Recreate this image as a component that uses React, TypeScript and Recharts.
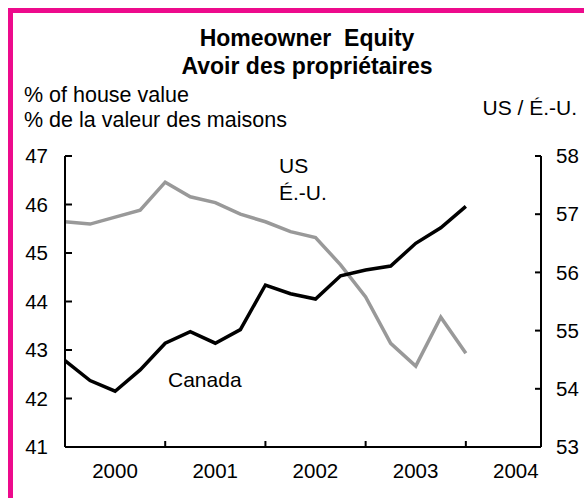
import { LineChart, Line, XAxis, YAxis } from "recharts";

const FONT = "'Liberation Sans', Arial, sans-serif";

// quarterly observations, 2000Q1 .. 2004Q1
const quarters = [
  "2000Q1", "2000Q2", "2000Q3", "2000Q4",
  "2001Q1", "2001Q2", "2001Q3", "2001Q4",
  "2002Q1", "2002Q2", "2002Q3", "2002Q4",
  "2003Q1", "2003Q2", "2003Q3", "2003Q4",
  "2004Q1",
];
// Canada, left axis (% of house value)
const canada = [
  42.78, 42.37, 42.15, 42.59, 43.14, 43.38, 43.14, 43.42,
  44.34, 44.16, 44.05, 44.53, 44.65, 44.73, 45.2, 45.52, 45.96,
];
// US, right axis
const us = [
  56.87, 56.83, 56.95, 57.07, 57.55, 57.3, 57.2, 57.0,
  56.87, 56.7, 56.6, 56.13, 55.58, 54.78, 54.39, 55.23, 54.61,
];

const years = ["2000", "2001", "2002", "2003", "2004"];
const yearStarts = [0, 4, 8, 12, 16];
const leftTicks = [41, 42, 43, 44, 45, 46, 47];
const rightTicks = [53, 54, 55, 56, 57, 58];

const data = quarters.map((q, i) => ({ q, t: i, canada: canada[i], us: us[i] }));

const tickStyle = { fill: "#000", fontSize: 20.5, fontFamily: FONT };
const axisLine = { stroke: "#000", strokeWidth: 2 };

function YearTick(props: any) {
  const { x, y, index } = props;
  return (
    <text x={x + 50} y={y + 15} textAnchor="middle" {...tickStyle}>
      {years[index]}
    </text>
  );
}

export default function App() {
  return (
    <div style={{ position: "absolute", left: 0, top: 0, width: 584, height: 498, background: "#fff" }}>
      <div
        style={{
          position: "absolute",
          left: 8,
          top: 8,
          width: 576,
          height: 490,
          boxSizing: "border-box",
          borderTop: "5px solid #ED0A8C",
          borderLeft: "5px solid #ED0A8C",
        }}
      />
      <div style={{ position: "absolute", left: 0, top: 0 }}>
        <LineChart width={584} height={498} data={data} margin={{ top: 156, right: 0, bottom: 0, left: 0 }}>
          <XAxis
            dataKey="t"
            type="number"
            domain={[0, 19]}
            ticks={yearStarts}
            interval={0}
            height={51}
            tickSize={-6}
            tickMargin={22}
            axisLine={axisLine}
            tickLine={axisLine}
            tick={<YearTick />}
          />
          <YAxis
            yAxisId="left"
            domain={[41, 47]}
            ticks={leftTicks}
            interval={0}
            width={65}
            tickSize={-7}
            tickMargin={24}
            axisLine={axisLine}
            tickLine={axisLine}
            tick={tickStyle}
          />
          <YAxis
            yAxisId="right"
            orientation="right"
            domain={[53, 58]}
            ticks={rightTicks}
            interval={0}
            width={43}
            tickSize={-6}
            tickMargin={21}
            axisLine={axisLine}
            tickLine={axisLine}
            tick={tickStyle}
          />
          <Line
            yAxisId="right"
            dataKey="us"
            type="linear"
            stroke="#999"
            strokeWidth={3.5}
            dot={false}
            isAnimationActive={false}
          />
          <Line
            yAxisId="left"
            dataKey="canada"
            type="linear"
            stroke="#000"
            strokeWidth={3.5}
            dot={false}
            isAnimationActive={false}
          />
        </LineChart>
      </div>
      <svg
        width={584}
        height={498}
        style={{ position: "absolute", left: 0, top: 0, pointerEvents: "none" }}
        fontFamily={FONT}
      >
        <text x={307} y={46} textAnchor="middle" fontSize={23} fontWeight="bold" style={{ whiteSpace: "pre" }}>
          {"Homeowner  Equity"}
        </text>
        <text x={307} y={74} textAnchor="middle" fontSize={23} fontWeight="bold">
          Avoir des propriétaires
        </text>
        <text x={24} y={102} fontSize={21.5}>% of house value</text>
        <text x={24} y={127} fontSize={21.5}>% de la valeur des maisons</text>
        <text x={577} y={115} textAnchor="end" fontSize={21}>US / É.-U.</text>
        <text x={279} y={173} fontSize={21}>US</text>
        <text x={279} y={200} fontSize={21}>É.-U.</text>
        <text x={168} y={387} fontSize={21}>Canada</text>
      </svg>
    </div>
  );
}
